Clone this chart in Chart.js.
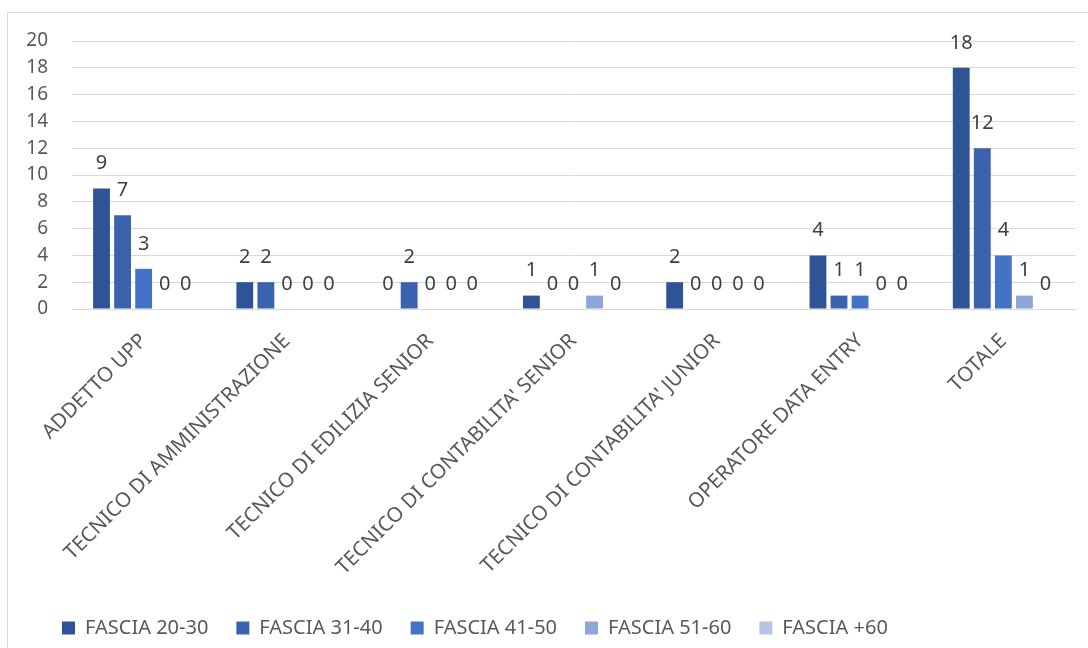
<!DOCTYPE html>
<html>
<head>
<meta charset="utf-8">
<script src="https://cdn.jsdelivr.net/npm/chart.js@4/dist/chart.umd.min.js"></script>
<style>
  html, body { margin: 0; padding: 0; background: #fff; }
  #wrap { position: relative; width: 1088px; height: 648px; overflow: hidden; }
  #frame { position: absolute; left: 7px; top: 12px; width: 1100px; height: 700px;
           border-left: 1px solid #d9d9d9; border-top: 1px solid #d9d9d9; }
  canvas { position: absolute; left: 0; top: 0; }
</style>
</head>
<body>
<div id="wrap">
  <div id="frame"></div>
  <canvas id="chart" width="1088" height="648"></canvas>
</div>
<script>
// categories and series
const categories = [
  "ADDETTO UPP",
  "TECNICO DI AMMINISTRAZIONE",
  "TECNICO DI EDILIZIA SENIOR",
  "TECNICO DI CONTABILITA' SENIOR",
  "TECNICO DI CONTABILITA' JUNIOR",
  "OPERATORE DATA ENTRY",
  "TOTALE"
]
const seriesNames = ["FASCIA 20-30", "FASCIA 31-40", "FASCIA 41-50", "FASCIA 51-60", "FASCIA +60"]
const fascia2030 = [9, 2, 0, 1, 2, 4, 18]
const fascia3140 = [7, 2, 2, 0, 0, 1, 12]
const fascia4150 = [3, 0, 0, 0, 0, 1, 4]
const fascia5160 = [0, 0, 0, 1, 0, 0, 1]
const fascia60 = [0, 0, 0, 0, 0, 0, 0]
const yTicks = [0, 2, 4, 6, 8, 10, 12, 14, 16, 18, 20]

const colors = ['#2F5496', '#3A62AD', '#4472C4', '#8FA5D7', '#B7C3E6']
const textColor = '#595959'
const fontFamily = "'Noto Sans', 'Open Sans', sans-serif"

// value labels above each bar (Excel style)
const valueLabels = {
  id: 'valueLabels',
  afterDatasetsDraw(chart) {
    const ctx = chart.ctx
    ctx.save()
    ctx.font = `20px ${fontFamily}`
    ctx.fillStyle = '#404040'
    ctx.textAlign = 'center'
    ctx.textBaseline = 'middle'
    chart.data.datasets.forEach((ds, i) => {
      chart.getDatasetMeta(i).data.forEach((bar, j) => {
        ctx.fillText(String(ds.data[j]), bar.x, bar.y - 25)
      })
    })
    ctx.restore()
  }
}

// push the legend right so it starts under the plot like in Excel
const legendShift = {
  id: 'legendShift',
  afterLayout(chart) {
    chart.legend.left += 24
  }
}

const allSeries = [fascia2030, fascia3140, fascia4150, fascia5160, fascia60]

new Chart(document.getElementById('chart'), {
  type: 'bar',
  data: {
    labels: categories,
    datasets: allSeries.map((values, i) => ({
      label: seriesNames[i],
      data: values,
      backgroundColor: colors[i],
      borderWidth: 0,
      barPercentage: 0.8,
      categoryPercentage: 0.735
    }))
  },
  options: {
    responsive: false,
    animation: false,
    layout: { padding: { left: 10, right: 13, top: 41, bottom: 0 } },
    plugins: {
      legend: {
        position: 'bottom',
        align: 'start',
        labels: {
          boxWidth: 13,
          boxHeight: 13,
          padding: 28,
          color: textColor,
          font: { family: fontFamily, size: 20 }
        }
      },
      tooltip: { enabled: false }
    },
    scales: {
      x: {
        grid: { display: false },
        border: { color: '#d9d9d9', width: 1 },
        ticks: {
          color: textColor,
          font: { family: fontFamily, size: 20.5 },
          maxRotation: 45,
          minRotation: 45,
          autoSkip: false,
          padding: 12
        },
        afterFit(scale) { scale.height = 281 }
      },
      y: {
        min: 0,
        max: 20,
        afterBuildTicks(scale) { scale.ticks = yTicks.map(v => ({ value: v })) },
        grid: { color: '#d9d9d9', lineWidth: 1, drawTicks: false },
        border: { display: false },
        ticks: {
          color: textColor,
          font: { family: fontFamily, size: 19 },
          padding: 24
        },
        afterFit(scale) { scale.width = 62 }
      }
    }
  },
  plugins: [valueLabels, legendShift]
})
</script>
</body>
</html>
